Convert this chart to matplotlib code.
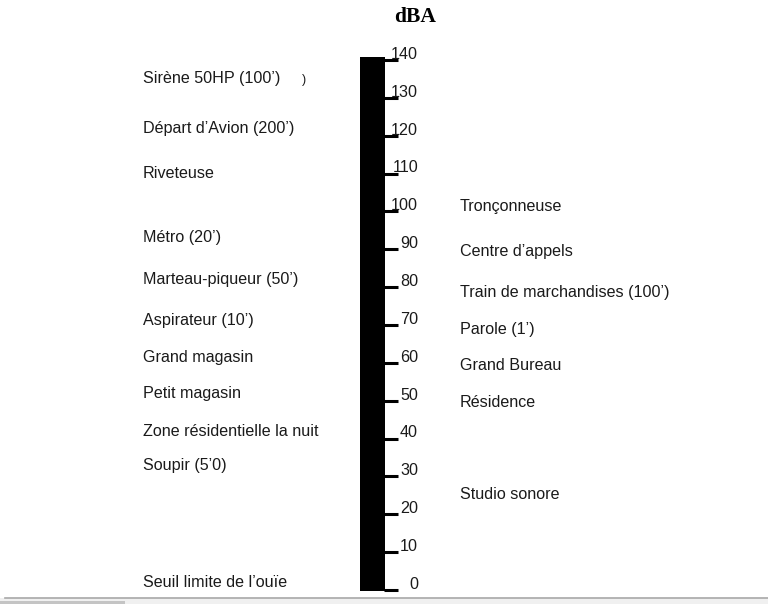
import matplotlib
matplotlib.use("Agg")
import matplotlib.pyplot as plt
from matplotlib.patches import Rectangle

# -- Data ---------------------------------------------------------------------
TICKS = [0, 10, 20, 30, 40, 50, 60, 70, 80, 90, 100, 110, 120, 130, 140]

LEFT_LABELS = [
    "Sirène 50HP (100’)", "Départ d’Avion (200’)", "Riveteuse", "Métro (20’)",
    "Marteau-piqueur (50’)", "Aspirateur (10’)", "Grand magasin",
    "Petit magasin", "Zone résidentielle la nuit", "Soupir (5’0)",
    "Seuil limite de l’ouïe",
]
LEFT_LEVELS = [135.2, 121.8, 109.9, 93.0, 82.1, 71.1, 61.5, 52.0, 42.0, 32.8, 2.1]

RIGHT_LABELS = [
    "Tronçonneuse", "Centre d’appels", "Train de marchandises (100’)",
    "Parole (1’)", "Grand Bureau", "Résidence", "Studio sonore",
]
RIGHT_LEVELS = [101.2, 89.3, 78.7, 68.9, 59.2, 49.4, 25.1]

BAR_BOTTOM, BAR_TOP = -0.3, 140.8

W, H = 768, 604
FS = 11.6
plt.rcParams["font.family"] = ["Liberation Sans", "DejaVu Sans"]

fig = plt.figure(figsize=(W / 100, H / 100), dpi=100)
fig.patch.set_facecolor("white")

# background axes in pixel coords (screenshot frame at the bottom)
bg = fig.add_axes([0, 0, 1, 1], zorder=0)
bg.set_xlim(0, W)
bg.set_ylim(H, 0)
bg.axis("off")
bg.add_patch(Rectangle((0, 598), W, 6, color="#f0f0f0", lw=0))
bg.add_patch(Rectangle((0, 601), 125, 3, color="#c4c4c4", lw=0))
bg.plot([5, W], [597.5, 597.5], color="#a8a8a8", lw=1.2)
bg.text(415, 17, "dBA", ha="center", va="center", fontsize=15.5,
        fontweight="bold", family=["Liberation Serif", "DejaVu Serif"])

# scale axes: y in dB, x in pixels; 0 dB at y=590px, 140 dB at y=60px
ax = fig.add_axes([0, (H - 590) / H, 1, 530 / H], zorder=1)
ax.set_xlim(0, W)
ax.set_ylim(0, 140)
ax.axis("off")
ax.patch.set_alpha(0)

ax.bar(372.5, BAR_TOP - BAR_BOTTOM, width=25, bottom=BAR_BOTTOM,
       color="black", clip_on=False)
ax.hlines(TICKS, 384, 398, color="black", lw=2.2, clip_on=False)
for t in TICKS:
    ax.text(418, t + 0.3, str(t), ha="right", va="baseline", fontsize=FS,
            color="#1a1a1a", clip_on=False)

for lab, lvl in zip(LEFT_LABELS, LEFT_LEVELS):
    ax.text(143, lvl, lab, ha="left", va="center", fontsize=FS,
            color="#1a1a1a", clip_on=False)
ax.text(302, 134.6, ")", ha="left", va="center", fontsize=9,
        color="#1a1a1a", clip_on=False)

for lab, lvl in zip(RIGHT_LABELS, RIGHT_LEVELS):
    ax.text(460, lvl, lab, ha="left", va="center", fontsize=FS,
            color="#1a1a1a", clip_on=False)

fig.savefig("out.png", dpi=100)
